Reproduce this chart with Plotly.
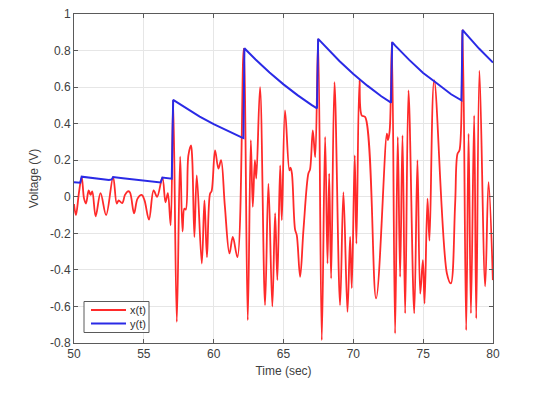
import plotly.graph_objects as go

# ---- data ----
x_t = [50.00, 50.14, 50.35, 50.55, 50.72, 50.86, 51.05, 51.19, 51.31, 51.55,
       51.90, 52.30, 52.80, 53.06, 53.20, 53.45, 53.65, 53.85, 54.00, 54.30,
       54.55, 54.85, 55.05, 55.37, 55.70, 55.95, 56.33, 56.55, 56.72, 56.92,
       57.10, 57.36, 57.60, 57.77, 57.90, 58.00, 58.19, 58.38, 58.47, 58.62,
       58.79, 59.15, 59.34, 59.52, 59.74, 59.85, 60.10, 60.34, 60.53, 60.80,
       61.13, 61.37, 61.70, 62.15, 62.44, 62.66, 62.80, 62.95, 63.05, 63.32,
       63.68, 63.92, 64.20, 64.40, 64.56, 64.76, 64.88, 65.11, 65.42, 65.50,
       65.60, 65.83, 65.95, 66.19, 66.43, 66.78, 66.90, 67.10, 67.27, 67.48,
       67.74, 67.98, 68.15, 68.27, 68.41, 68.65, 69.05, 69.29, 69.58, 69.77,
       69.89, 70.10, 70.22, 70.44, 70.60, 70.85, 71.63, 72.40, 72.48, 72.60,
       72.76, 72.99, 73.18, 73.35, 73.52, 73.71, 73.95, 74.36, 74.59, 74.79,
       74.98, 75.10, 75.31, 75.45, 75.79, 76.70, 76.98, 77.29, 77.46, 77.60,
       77.82, 78.08, 78.25, 78.42, 78.65, 78.80, 79.03, 79.44, 79.68, 79.99]
x_v = [-0.04, -0.10, 0.02, 0.108, -0.01, -0.037, 0.035, 0.01, 0.03, -0.107,
       0.02, -0.10, 0.108, -0.037, -0.02, -0.035, 0.01, 0.03, 0.025, -0.09,
       -0.01, 0.01, -0.02, -0.125, 0.035, 0.0, 0.105, -0.03, 0.02, -0.156,
       0.53, -0.684, 0.22, -0.19, -0.065, -0.07, 0.227, 0.281, 0.20, -0.22,
       0.117, -0.365, -0.02, -0.33, 0.017, 0.03, 0.254, 0.154, 0.20, -0.05,
       -0.31, -0.22, -0.33, 0.81, -0.675, 0.31, -0.055, 0.20, 0.10, 0.60,
       -0.593, 0.072, -0.60, -0.09, -0.456, 0.172, -0.128, 0.473, 0.145, 0.16,
       0.13, -0.18, -0.21, -0.438, -0.18, 0.127, 0.15, 0.363, 0.217, 0.864,
       -0.784, 0.327, -0.365, 0.127, -0.447, 0.627, -0.593, 0.026, -0.63, -0.22,
       -0.50, 0.227, -0.256, 0.64, 0.445, 0.436, -0.556, 0.345, 0.31, 0.36,
       0.846, -0.748, 0.327, -0.438, 0.336, -0.638, 0.582, -0.638, 0.20, -0.53,
       -0.347, -0.584, -0.01, -0.24, 0.637, -0.42, -0.474, -0.037, 0.236, 0.254,
       0.913, -0.73, 0.345, -0.638, 0.445, -0.666, 0.69, -0.49, 0.08, -0.456]

y_t = [50.00, 50.45, 50.55, 51.50, 52.50, 52.70, 52.80, 53.50, 54.50, 55.50,
       56.20, 56.33, 57.00, 57.10, 58.00, 59.00, 60.00, 61.00, 62.00, 62.13,
       62.20, 63.00, 64.00, 65.00, 66.00, 67.00, 67.40, 67.48, 68.00, 69.00,
       70.00, 71.00, 72.00, 72.70, 72.78, 73.00, 74.00, 75.00, 75.79, 76.00,
       77.00, 77.74, 77.82, 78.00, 79.00, 80.00]
y_v = [0.080, 0.077, 0.110, 0.100, 0.092, 0.095, 0.108, 0.101, 0.092, 0.083,
       0.078, 0.105, 0.099, 0.530, 0.485, 0.439, 0.397, 0.359, 0.325, 0.321,
       0.813, 0.751, 0.680, 0.615, 0.556, 0.503, 0.484, 0.864, 0.821, 0.743,
       0.672, 0.608, 0.550, 0.515, 0.846, 0.827, 0.749, 0.677, 0.632, 0.620,
       0.561, 0.528, 0.913, 0.897, 0.811, 0.734]

x_ticks = [50, 55, 60, 65, 70, 75, 80]
y_ticks = [-0.8, -0.6, -0.4, -0.2, 0, 0.2, 0.4, 0.6, 0.8, 1]
y_tick_text = ["-0.8", "-0.6", "-0.4", "-0.2", "0", "0.2", "0.4", "0.6", "0.8", "1"]
series_names = ["x(t)", "y(t)"]
series_colors = ["#ff2a2a", "#2a2ae6"]

# page has an 8px body margin; size the figure so it fits the window
W, H = 527, 382
L, R, T, B = 66, 42, 6, 47
PW, PH = W - L - R, H - T - B
FONT = "Liberation Sans, Arial, sans-serif"
AX = "#5a5a5a"

fig = go.Figure()
fig.add_trace(go.Scatter(x=x_t, y=x_v, mode="lines", name=series_names[0],
                         line=dict(color=series_colors[0], width=1.8, shape="spline", smoothing=1.0),
                         showlegend=False))
fig.add_trace(go.Scatter(x=y_t, y=y_v, mode="lines", name=series_names[1],
                         line=dict(color=series_colors[1], width=2),
                         showlegend=False))

axis_common = dict(showgrid=True, gridcolor="#e6e6e6", gridwidth=1,
                   showline=True, linecolor=AX, linewidth=1, mirror="ticks",
                   ticks="inside", ticklen=4, tickcolor=AX, zeroline=False,
                   automargin=False, ticklabeloverflow="allow",
                   tickfont=dict(family=FONT, size=12, color="#404040"))

fig.update_xaxes(range=[50, 80], tickvals=x_ticks, ticktext=[str(v) for v in x_ticks],
                 title=dict(text="Time (sec)", font=dict(family=FONT, size=12, color="#404040"), standoff=6),
                 **axis_common)
fig.update_yaxes(range=[-0.8, 1], tickvals=y_ticks, ticktext=y_tick_text,
                 title=dict(text="Voltage (V)", font=dict(family=FONT, size=12, color="#404040"), standoff=8),
                 **axis_common)

# custom MATLAB-style legend (page pixel positions converted to paper coordinates)
OFF = 8

def px(xp):
    return (xp - OFF - L) / PW

def py(yp):
    return (H - B - (yp - OFF)) / PH

shapes = [dict(type="rect", xref="paper", yref="paper",
               x0=px(84), x1=px(149), y0=py(332.5), y1=py(301.5),
               line=dict(color=AX, width=1), fillcolor="white", layer="above")]
annotations = []
for i, (nm, col) in enumerate(zip(series_names, series_colors)):
    yr = [310, 323.5][i]
    shapes.append(dict(type="line", xref="paper", yref="paper",
                       x0=px(91), x1=px(126), y0=py(yr), y1=py(yr),
                       line=dict(color=col, width=2), layer="above"))
    annotations.append(dict(xref="paper", yref="paper", x=px(128), y=py(yr),
                            text=nm, showarrow=False, xanchor="left", yanchor="middle",
                            font=dict(family=FONT, size=11, color="#303030")))

fig.update_layout(template="none", width=W, height=H, margin=dict(l=L, r=R, t=T, b=B),
                  paper_bgcolor="white", plot_bgcolor="white",
                  shapes=shapes, annotations=annotations)

fig.write_html("out.html")
